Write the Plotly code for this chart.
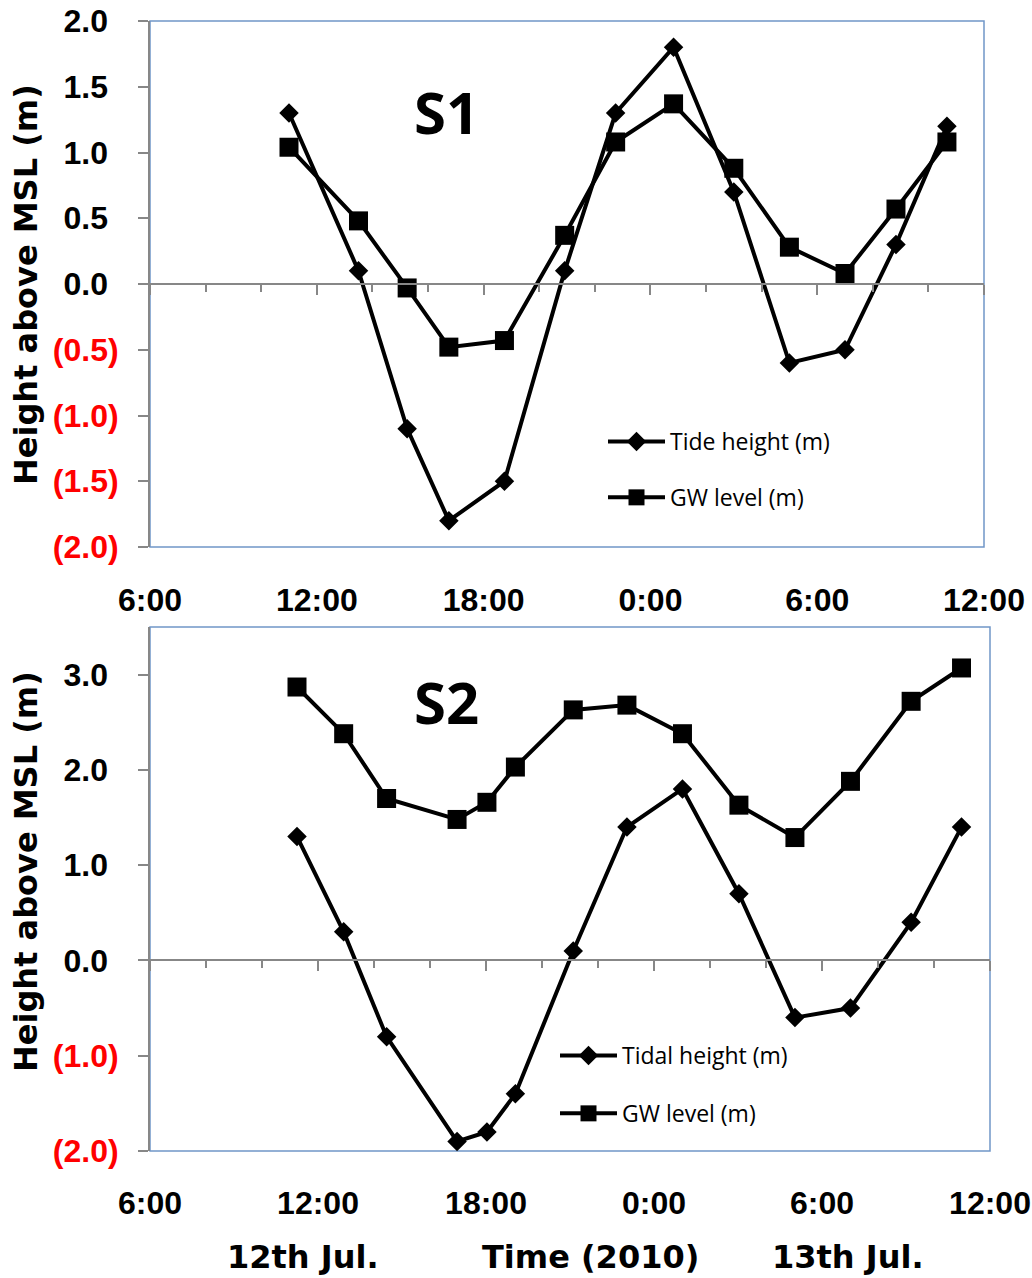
import plotly.graph_objects as go

W, H = 1032, 1278

# ---------------- data ----------------
s1_time = ["2010-07-12 11:00", "2010-07-12 13:30", "2010-07-12 15:15", "2010-07-12 16:45",
           "2010-07-12 18:45", "2010-07-12 20:55", "2010-07-12 22:45", "2010-07-13 00:50",
           "2010-07-13 03:00", "2010-07-13 05:00", "2010-07-13 07:00", "2010-07-13 08:50",
           "2010-07-13 10:40"]
s1_tide = [1.3, 0.1, -1.1, -1.8, -1.5, 0.1, 1.3, 1.8, 0.7, -0.6, -0.5, 0.3, 1.2]
s1_gw = [1.04, 0.48, -0.03, -0.48, -0.43, 0.37, 1.08, 1.37, 0.88, 0.28, 0.08, 0.57, 1.08]

s2_time = ["2010-07-12 11:15", "2010-07-12 12:55", "2010-07-12 14:27", "2010-07-12 16:58",
           "2010-07-12 18:02", "2010-07-12 19:03", "2010-07-12 21:07", "2010-07-12 23:02",
           "2010-07-13 01:01", "2010-07-13 03:02", "2010-07-13 05:02", "2010-07-13 07:01",
           "2010-07-13 09:11", "2010-07-13 10:59"]
s2_tide = [1.3, 0.3, -0.8, -1.9, -1.8, -1.4, 0.1, 1.4, 1.8, 0.7, -0.6, -0.5, 0.4, 1.4]
s2_gw = [2.87, 2.38, 1.70, 1.48, 1.66, 2.03, 2.63, 2.68, 2.38, 1.63, 1.29, 1.88, 2.72, 3.07]

x_ticks = ["2010-07-12 06:00", "2010-07-12 12:00", "2010-07-12 18:00",
           "2010-07-13 00:00", "2010-07-13 06:00", "2010-07-13 12:00"]
x_ticklabels = ["6:00", "12:00", "18:00", "0:00", "6:00", "12:00"]
x_range = ["2010-07-12 06:00", "2010-07-13 12:00"]

s1_yticks = [2.0, 1.5, 1.0, 0.5, 0.0, -0.5, -1.0, -1.5, -2.0]
s2_yticks = [3.0, 2.0, 1.0, 0.0, -1.0, -2.0]
s1_yrange = [-2, 2]
s2_yrange = [-2, 3.5]

# ---------------- styling ----------------
GRAY = "#878787"
BLUE = "#7096C8"
TICKFONT = dict(family="Liberation Sans", size=32, color="black", weight="bold")
TITLEFONT = dict(family="DejaVu Sans", size=32, color="black", weight="bold")
LEGFONT = dict(family="Open Sans", size=23, color="black")


def fmt(v):
    if v < 0:
        return '<span style="color:#FF0000">(%.1f)</span>' % abs(v)
    return '%.1f<span style="color:rgba(0,0,0,0)">)</span>' % v


def px_x(p):
    return p / W


def px_y(p):
    return 1 - p / H


dom_x1 = [px_x(150), px_x(984)]
dom_y1 = [px_y(547), px_y(21)]
dom_x2 = [px_x(150), px_x(990)]
dom_y2 = [px_y(1151), px_y(627)]


def zero_pos(dom, rng):
    return dom[0] + (0 - rng[0]) / (rng[1] - rng[0]) * (dom[1] - dom[0])


def zero_px(dom, rng):
    return (1 - zero_pos(dom, rng)) * H


fig = go.Figure()

line = dict(color="black", width=4)
DIA = dict(symbol="diamond", size=15, color="black")
SQ = dict(symbol="square", size=19, color="black")
fig.add_trace(go.Scatter(x=s1_time, y=s1_tide, name="Tide height (m)", mode="lines+markers",
                         line=line, marker=DIA,
                         xaxis="x", yaxis="y", legend="legend", legendgroup="a", cliponaxis=False))
fig.add_trace(go.Scatter(x=s1_time, y=s1_gw, name="GW level (m)", mode="lines+markers",
                         line=line, marker=SQ,
                         xaxis="x", yaxis="y", legend="legend", legendgroup="b", cliponaxis=False))
fig.add_trace(go.Scatter(x=s2_time, y=s2_tide, name="Tidal height (m)", mode="lines+markers",
                         line=line, marker=DIA,
                         xaxis="x2", yaxis="y2", legend="legend2", legendgroup="c", cliponaxis=False))
fig.add_trace(go.Scatter(x=s2_time, y=s2_gw, name="GW level (m)", mode="lines+markers",
                         line=line, marker=SQ,
                         xaxis="x2", yaxis="y2", legend="legend2", legendgroup="d", cliponaxis=False))


def x_axis(dom, ydom, yrng, label_center_px):
    zp = zero_px(ydom, yrng)
    standoff = label_center_px - zp - 35
    return dict(domain=dom, type="date", range=x_range, anchor="free",
                position=zero_pos(ydom, yrng), automargin=False,
                tickvals=x_ticks, ticktext=x_ticklabels, tickfont=TICKFONT,
                ticklabelstandoff=int(round(standoff)),
                showline=True, linecolor=GRAY, linewidth=2,
                ticks="outside", ticklen=10, tickwidth=2, tickcolor=GRAY,
                showgrid=False, zeroline=False,
                minor=dict(ticks="outside", ticklen=7, tickwidth=2, tickcolor=GRAY,
                           dtick=2 * 3600 * 1000, tick0="2010-07-12 06:00", showgrid=False))


y_common = dict(showgrid=False, zeroline=False, showline=True, linecolor=GRAY, linewidth=2,
                ticks="outside", ticklen=10, tickwidth=2, tickcolor=GRAY, tickfont=TICKFONT,
                automargin=False, ticklabelstandoff=13)

fig.update_layout(
    width=W, height=H, margin=dict(l=0, r=0, t=0, b=0, autoexpand=False),
    paper_bgcolor="white", plot_bgcolor="white", showlegend=True,
    xaxis=x_axis(dom_x1, dom_y1, s1_yrange, 597),
    xaxis2=x_axis(dom_x2, dom_y2, s2_yrange, 1199),
    yaxis=dict(domain=dom_y1, anchor="x", range=s1_yrange, tickvals=s1_yticks,
               ticktext=[fmt(v) for v in s1_yticks], **y_common),
    yaxis2=dict(domain=dom_y2, anchor="x2", range=s2_yrange, tickvals=s2_yticks,
                ticktext=[fmt(v) for v in s2_yticks], **y_common),
    legend=dict(x=px_x(603), y=px_y(420), xanchor="left", yanchor="top", font=LEGFONT,
                bgcolor="rgba(0,0,0,0)", itemwidth=57, tracegroupgap=23, traceorder="grouped"),
    legend2=dict(x=px_x(555), y=px_y(1034), xanchor="left", yanchor="top", font=LEGFONT,
                 bgcolor="rgba(0,0,0,0)", itemwidth=57, tracegroupgap=25, traceorder="grouped"),
)

# blue frame on the plot areas
for xr, yr in (("x domain", "y domain"), ("x2 domain", "y2 domain")):
    fig.add_shape(type="rect", xref=xr, yref=yr, x0=0, x1=1, y0=0, y1=1,
                  line=dict(color=BLUE, width=1.5), layer="below")

ann = []
common = dict(xref="paper", yref="paper", showarrow=False, xanchor="center", yanchor="middle")
SFONT = dict(family="Open Sans", size=58, color="black", weight="bold")
ann.append(dict(text="S1", x=px_x(446), y=px_y(111), font=SFONT, **common))
ann.append(dict(text="S2", x=px_x(446), y=px_y(701), font=SFONT, **common))
for yc in (285, 872):
    ann.append(dict(text="Height above MSL (m)", x=px_x(26), y=px_y(yc), textangle=-90,
                    font=TITLEFONT, **common))
for txt, xc in (("12th Jul.", 303), ("Time (2010)", 590), ("13th Jul.", 848)):
    ann.append(dict(text=txt, x=px_x(xc), y=px_y(1257), font=TITLEFONT, **common))
fig.update_layout(annotations=ann)

fig.write_html("out.html")
